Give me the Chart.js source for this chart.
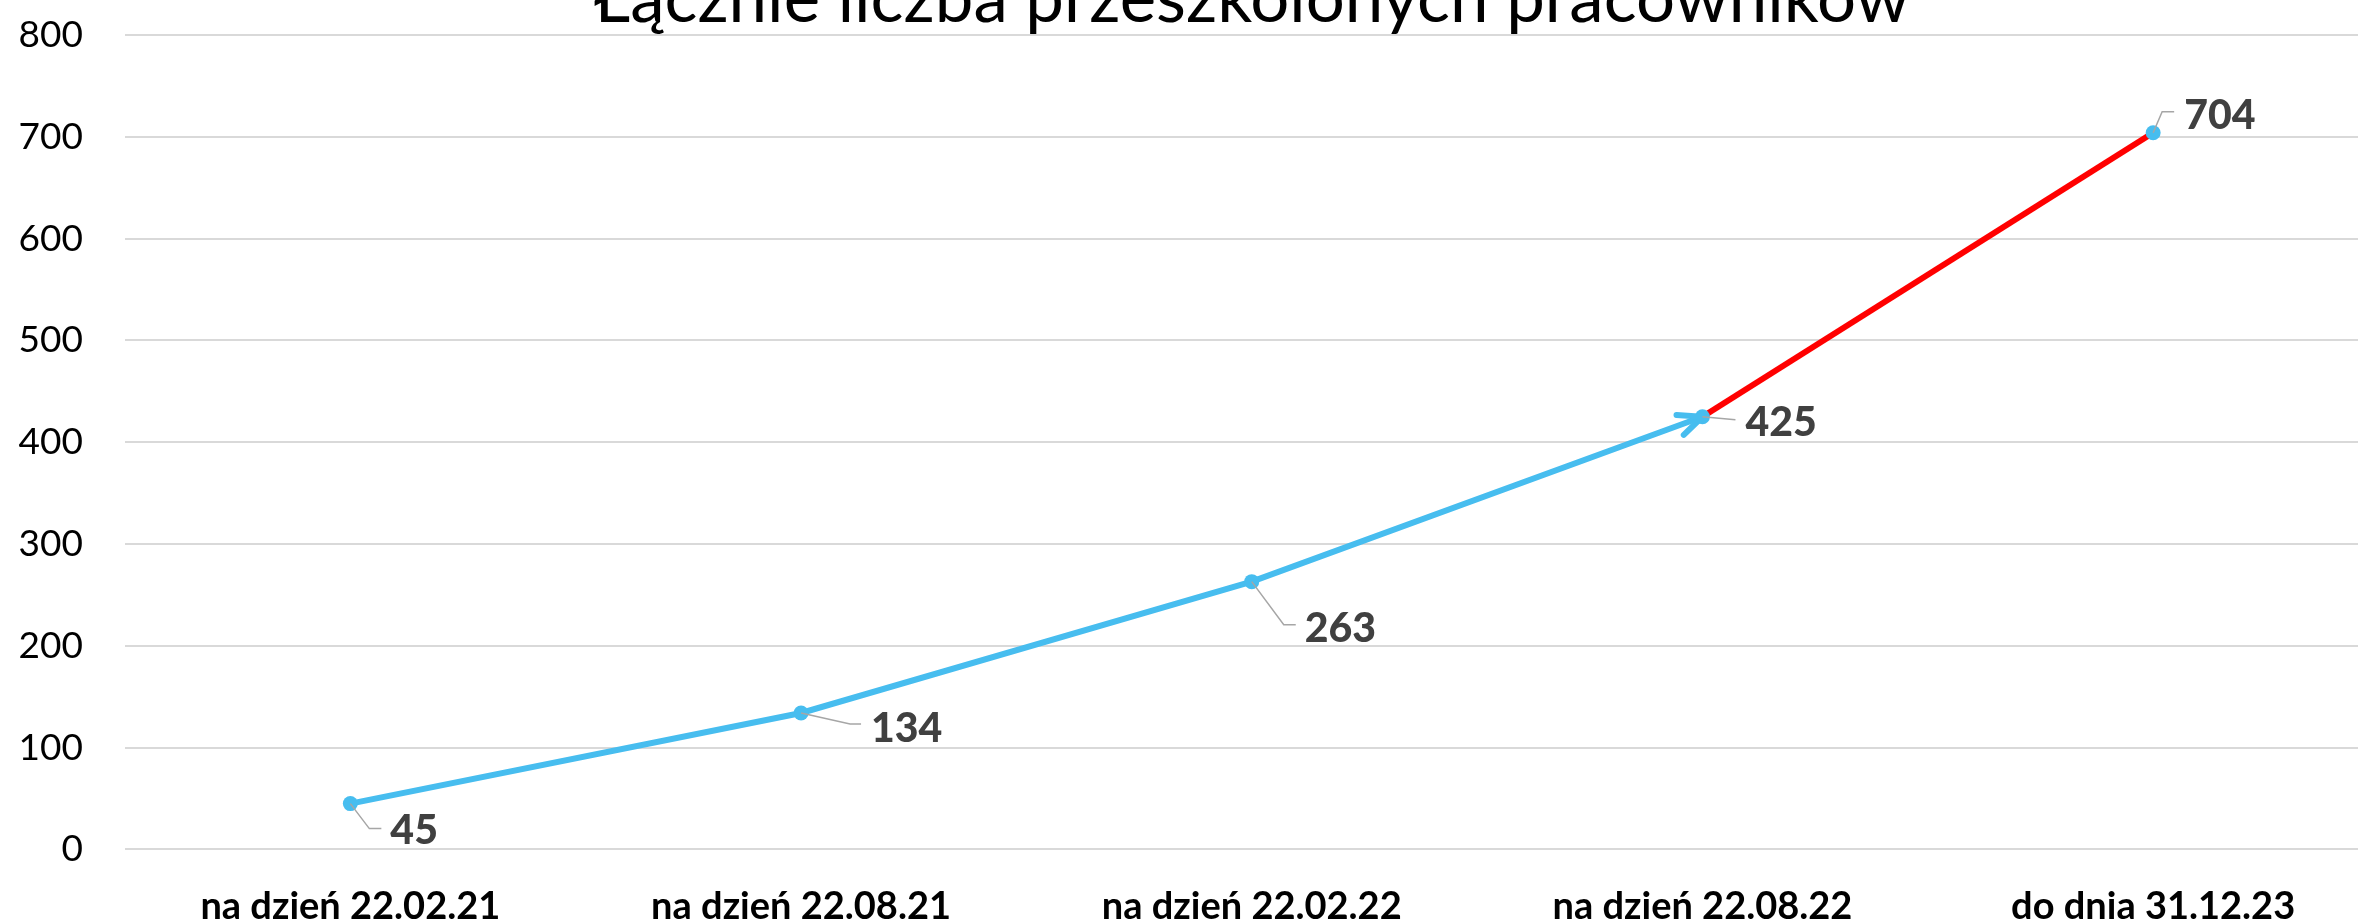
<!DOCTYPE html>
<html lang="pl">
<head>
<meta charset="utf-8">
<script src="https://cdn.jsdelivr.net/npm/chart.js"></script>
<style>
  html, body { margin: 0; padding: 0; background: #fff; overflow: hidden; }
  #wrap { position: relative; width: 2358px; height: 921px; overflow: hidden; }
  /* the chart is a bit bigger than the window, like in the original screenshot */
  #myChart { position: absolute; left: 0; top: -35px; }
</style>
</head>
<body>
<div id="wrap"><canvas id="myChart" width="2386" height="1000"></canvas></div>
<script>
// data
const categories = ['na dzień 22.02.21', 'na dzień 22.08.21', 'na dzień 22.02.22', 'na dzień 22.08.22', 'do dnia 31.12.23'];
const trainedTotal = [45, 134, 263, 425, 704];
const yTicks = [0, 100, 200, 300, 400, 500, 600, 700, 800];
const chartTitle = 'Łącznie liczba przeszkolonych pracowników';

const BLUE = '#47BDEF';
const RED = '#FF0000';

// where each value label sits relative to its point (plus leader line)
const labelPlacement = [
  { dx: 40, dy: 25, bend: [19, 25], end: [31, 25] },
  { dx: 70, dy: 14, bend: [49, 11], end: [60, 11] },
  { dx: 53, dy: 45, bend: [32, 43], end: [44, 43] },
  { dx: 43, dy: 4,  bend: null,     end: [33, 3] },
  { dx: 31, dy: -19, bend: [9, -21], end: [21, -21] }
];

// arrow head on the blue part, pointing at the 4th point
const arrowPlugin = {
  id: 'arrowHead',
  afterDatasetsDraw(chart) {
    const pts = chart.getDatasetMeta(0).data;
    const tip = pts[3], from = pts[2];
    const ang = Math.atan2(from.y - tip.y, from.x - tip.x);
    const len = 26, spread = 24 * Math.PI / 180;
    const c = chart.ctx;
    c.save();
    c.strokeStyle = BLUE;
    c.lineWidth = 6;
    c.lineCap = 'round';
    c.beginPath();
    c.moveTo(tip.x + len * Math.cos(ang - spread), tip.y + len * Math.sin(ang - spread));
    c.lineTo(tip.x, tip.y);
    c.lineTo(tip.x + len * Math.cos(ang + spread), tip.y + len * Math.sin(ang + spread));
    c.stroke();
    c.restore();
  }
};

// value labels with small grey leader lines
const valueLabels = {
  id: 'valueLabels',
  afterDatasetsDraw(chart) {
    const c = chart.ctx;
    const pts = chart.getDatasetMeta(0).data;
    c.save();
    pts.forEach((p, i) => {
      const lp = labelPlacement[i];
      c.strokeStyle = '#A6A6A6';
      c.lineWidth = 1.5;
      c.beginPath();
      c.moveTo(p.x, p.y);
      if (lp.bend) c.lineTo(p.x + lp.bend[0], p.y + lp.bend[1]);
      c.lineTo(p.x + lp.end[0], p.y + lp.end[1]);
      c.stroke();

      c.fillStyle = '#404040';
      c.font = '900 41px Lato';
      c.textAlign = 'left';
      c.textBaseline = 'alphabetic';
      c.fillText(String(trainedTotal[i]), p.x + lp.dx, p.y + lp.dy + 15);
    });
    c.restore();
  }
};

const ctx = document.getElementById('myChart').getContext('2d');

new Chart(ctx, {
  type: 'line',
  data: {
    labels: categories,
    datasets: [{
      data: trainedTotal,
      borderColor: BLUE,
      borderWidth: 6,
      tension: 0,
      pointRadius: 7.5,
      pointBackgroundColor: BLUE,
      pointBorderColor: BLUE,
      pointBorderWidth: 0,
      segment: {
        borderColor: c => c.p0DataIndex === 3 ? RED : BLUE
      }
    }]
  },
  options: {
    responsive: false,
    animation: false,
    layout: { padding: 0 },
    plugins: {
      legend: { display: false },
      tooltip: { enabled: false },
      title: {
        display: true,
        fullSize: false,
        text: chartTitle,
        color: '#000',
        font: { family: 'Lato', size: 69, weight: 'normal', lineHeight: 1 },
        padding: { top: 0, bottom: 1 }
      }
    },
    scales: {
      x: {
        offset: true,
        grid: { display: false, drawTicks: false },
        border: { display: false },
        ticks: {
          color: '#000',
          padding: 35,
          maxRotation: 0,
          font: { family: 'Lato', size: 38, weight: 'bold' }
        }
      },
      y: {
        min: yTicks[0],
        max: yTicks[yTicks.length - 1],
        afterBuildTicks(scale) { scale.ticks = yTicks.map(v => ({ value: v })); },
        afterFit(scale) { scale.width = 125; },
        grid: { color: '#D9D9D9', lineWidth: 2, drawTicks: false },
        border: { display: false },
        ticks: {
          color: '#000',
          padding: 42,
          font: { family: 'Lato', size: 37 }
        }
      }
    }
  },
  plugins: [arrowPlugin, valueLabels]
});
</script>
</body>
</html>
